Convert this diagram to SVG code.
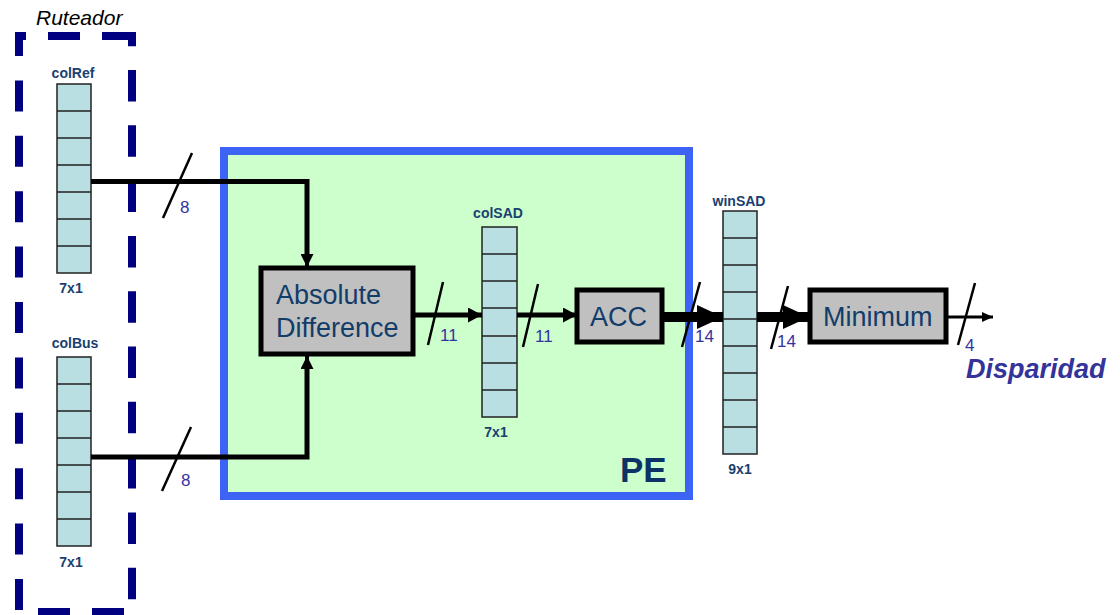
<svg xmlns="http://www.w3.org/2000/svg" width="1120" height="615" viewBox="0 0 1120 615">
<defs>
<style>
.reg{fill:#badfe2;stroke:#222;stroke-width:1.5}
.cell{stroke:#222;stroke-width:1.5}
.lbl{font-family:"Liberation Sans",Arial,sans-serif;font-weight:bold;font-size:14px;fill:#1a4070;text-anchor:middle}
.box{fill:#c0c0c0;stroke:#000;stroke-width:5}
.btxt{font-family:"Liberation Sans",Arial,sans-serif;font-size:27px;fill:#123c69}
.num{font-family:"Liberation Sans",Arial,sans-serif;font-size:17px;fill:#3333a0}
.w{stroke:#000;fill:none}
.sl{stroke:#000;stroke-width:2.5}
.dash{fill:none;stroke:#000080;stroke-width:8}
</style>
<marker id="ah" markerWidth="14" markerHeight="15" refX="14" refY="7.5" orient="auto" markerUnits="userSpaceOnUse">
<path d="M0,0 L14,7.5 L0,15 Z" fill="#000"/>
</marker>
<marker id="ahv" markerWidth="13" markerHeight="13" refX="13" refY="6.5" orient="auto" markerUnits="userSpaceOnUse">
<path d="M0,0 L13,6.5 L0,13 Z" fill="#000"/>
</marker>
<marker id="ahb" markerWidth="26" markerHeight="24" refX="26" refY="12" orient="auto" markerUnits="userSpaceOnUse">
<path d="M0,0 L26,12 L0,24 Z" fill="#000"/>
</marker>
<marker id="ahs" markerWidth="11" markerHeight="10" refX="11" refY="5" orient="auto" markerUnits="userSpaceOnUse">
<path d="M0,0 L11,5 L0,10 Z" fill="#000"/>
</marker>
</defs>
<rect width="1120" height="615" fill="#ffffff"/>

<g id="ruteador">
<path class="dash" d="M19,36 H136" stroke-dasharray="32 22" stroke-dashoffset="25"/>
<path class="dash" d="M19,32 V615" stroke-dasharray="31 24.4" stroke-dashoffset="7"/>
<path class="dash" d="M132,32 V615" stroke-dasharray="31.5 23.8" stroke-dashoffset="17.3"/>
<path class="dash" d="M19,612 H132" stroke-dasharray="32 22" stroke-dashoffset="35"/>
<text x="36" y="25" font-family="'Liberation Sans',Arial,sans-serif" font-style="italic" font-size="21" fill="#000">Ruteador</text>
</g>

<g id="pe">
<rect x="224" y="151" width="465" height="345" fill="#ccffcc" stroke="#3d63f5" stroke-width="8"/>
<text x="620" y="482" font-family="'Liberation Sans',Arial,sans-serif" font-weight="bold" font-size="35" fill="#0d3366">PE</text>
</g>

<g id="colRef">
<text class="lbl" x="73" y="78">colRef</text>
<rect class="reg" x="57" y="84" width="34" height="189"/>
<path class="cell" d="M57,111H91M57,138H91M57,165H91M57,192H91M57,219H91M57,246H91"/>
<text class="lbl" x="71" y="293">7x1</text>
</g>

<g id="colBus">
<text class="lbl" x="75" y="348">colBus</text>
<rect class="reg" x="57" y="357" width="34" height="189"/>
<path class="cell" d="M57,384H91M57,411H91M57,438H91M57,465H91M57,492H91M57,519H91"/>
<text class="lbl" x="71" y="567">7x1</text>
</g>

<g id="colSAD">
<text class="lbl" x="498" y="218">colSAD</text>
<rect class="reg" x="482" y="227" width="35" height="190"/>
<path class="cell" d="M482,254H517M482,281H517M482,308H517M482,336H517M482,363H517M482,390H517"/>
<text class="lbl" x="496" y="437">7x1</text>
</g>

<g id="winSAD">
<text class="lbl" x="739" y="206">winSAD</text>
<rect class="reg" x="723" y="211" width="34" height="243"/>
<path class="cell" d="M723,238H757M723,265H757M723,292H757M723,319H757M723,346H757M723,373H757M723,400H757M723,427H757"/>
<text class="lbl" x="740" y="474">9x1</text>
</g>

<g id="absdiff">
<rect class="box" x="261" y="268" width="152" height="86"/>
<text class="btxt" x="276" y="304">Absolute</text>
<text class="btxt" x="276" y="337">Difference</text>
</g>

<g id="acc">
<rect class="box" x="577" y="290" width="85" height="52"/>
<text class="btxt" x="590" y="326">ACC</text>
</g>

<g id="minimum">
<rect class="box" x="810" y="290" width="136" height="52"/>
<text class="btxt" x="823" y="326">Minimum</text>
</g>

<g id="connectors">
<path class="w" stroke-width="5" d="M91,181.5 H307 V255"/>
<path class="w" stroke-width="4" d="M307,250 V267" marker-end="url(#ahv)"/>
<path class="w" stroke-width="5" d="M91,457 H307 V368"/>
<path class="w" stroke-width="4" d="M307,372 V356" marker-end="url(#ahv)"/>
<path class="w" stroke-width="5" d="M413,315 H482" marker-end="url(#ah)"/>
<path class="w" stroke-width="5" d="M517,315 H577" marker-end="url(#ah)"/>
<path class="w" stroke-width="10" d="M662,317 H723" marker-end="url(#ahb)"/>
<path class="w" stroke-width="10" d="M757,317 H809" marker-end="url(#ahb)"/>
<path class="w" stroke-width="3" d="M946,317 H993" marker-end="url(#ahs)"/>
<line class="sl" x1="163" y1="218" x2="192" y2="153"/>
<line class="sl" x1="162" y1="491" x2="191" y2="427"/>
<line class="sl" x1="428" y1="345" x2="443" y2="282"/>
<line class="sl" x1="523" y1="347" x2="538" y2="284"/>
<line class="sl" x1="682" y1="347" x2="700" y2="282"/>
<line class="sl" x1="771" y1="349" x2="788" y2="286"/>
<line class="sl" x1="958" y1="345" x2="975" y2="283"/>
<text class="num" x="180" y="213">8</text>
<text class="num" x="181" y="486">8</text>
<text class="num" x="440" y="341">11</text>
<text class="num" x="535" y="342">11</text>
<text class="num" x="695" y="342">14</text>
<text class="num" x="777" y="347">14</text>
<text class="num" x="965" y="351" font-size="16">4</text>
<text x="966" y="378" font-family="'Liberation Sans',Arial,sans-serif" font-weight="bold" font-style="italic" font-size="27" fill="#333399">Disparidad</text>
</g>
</svg>
